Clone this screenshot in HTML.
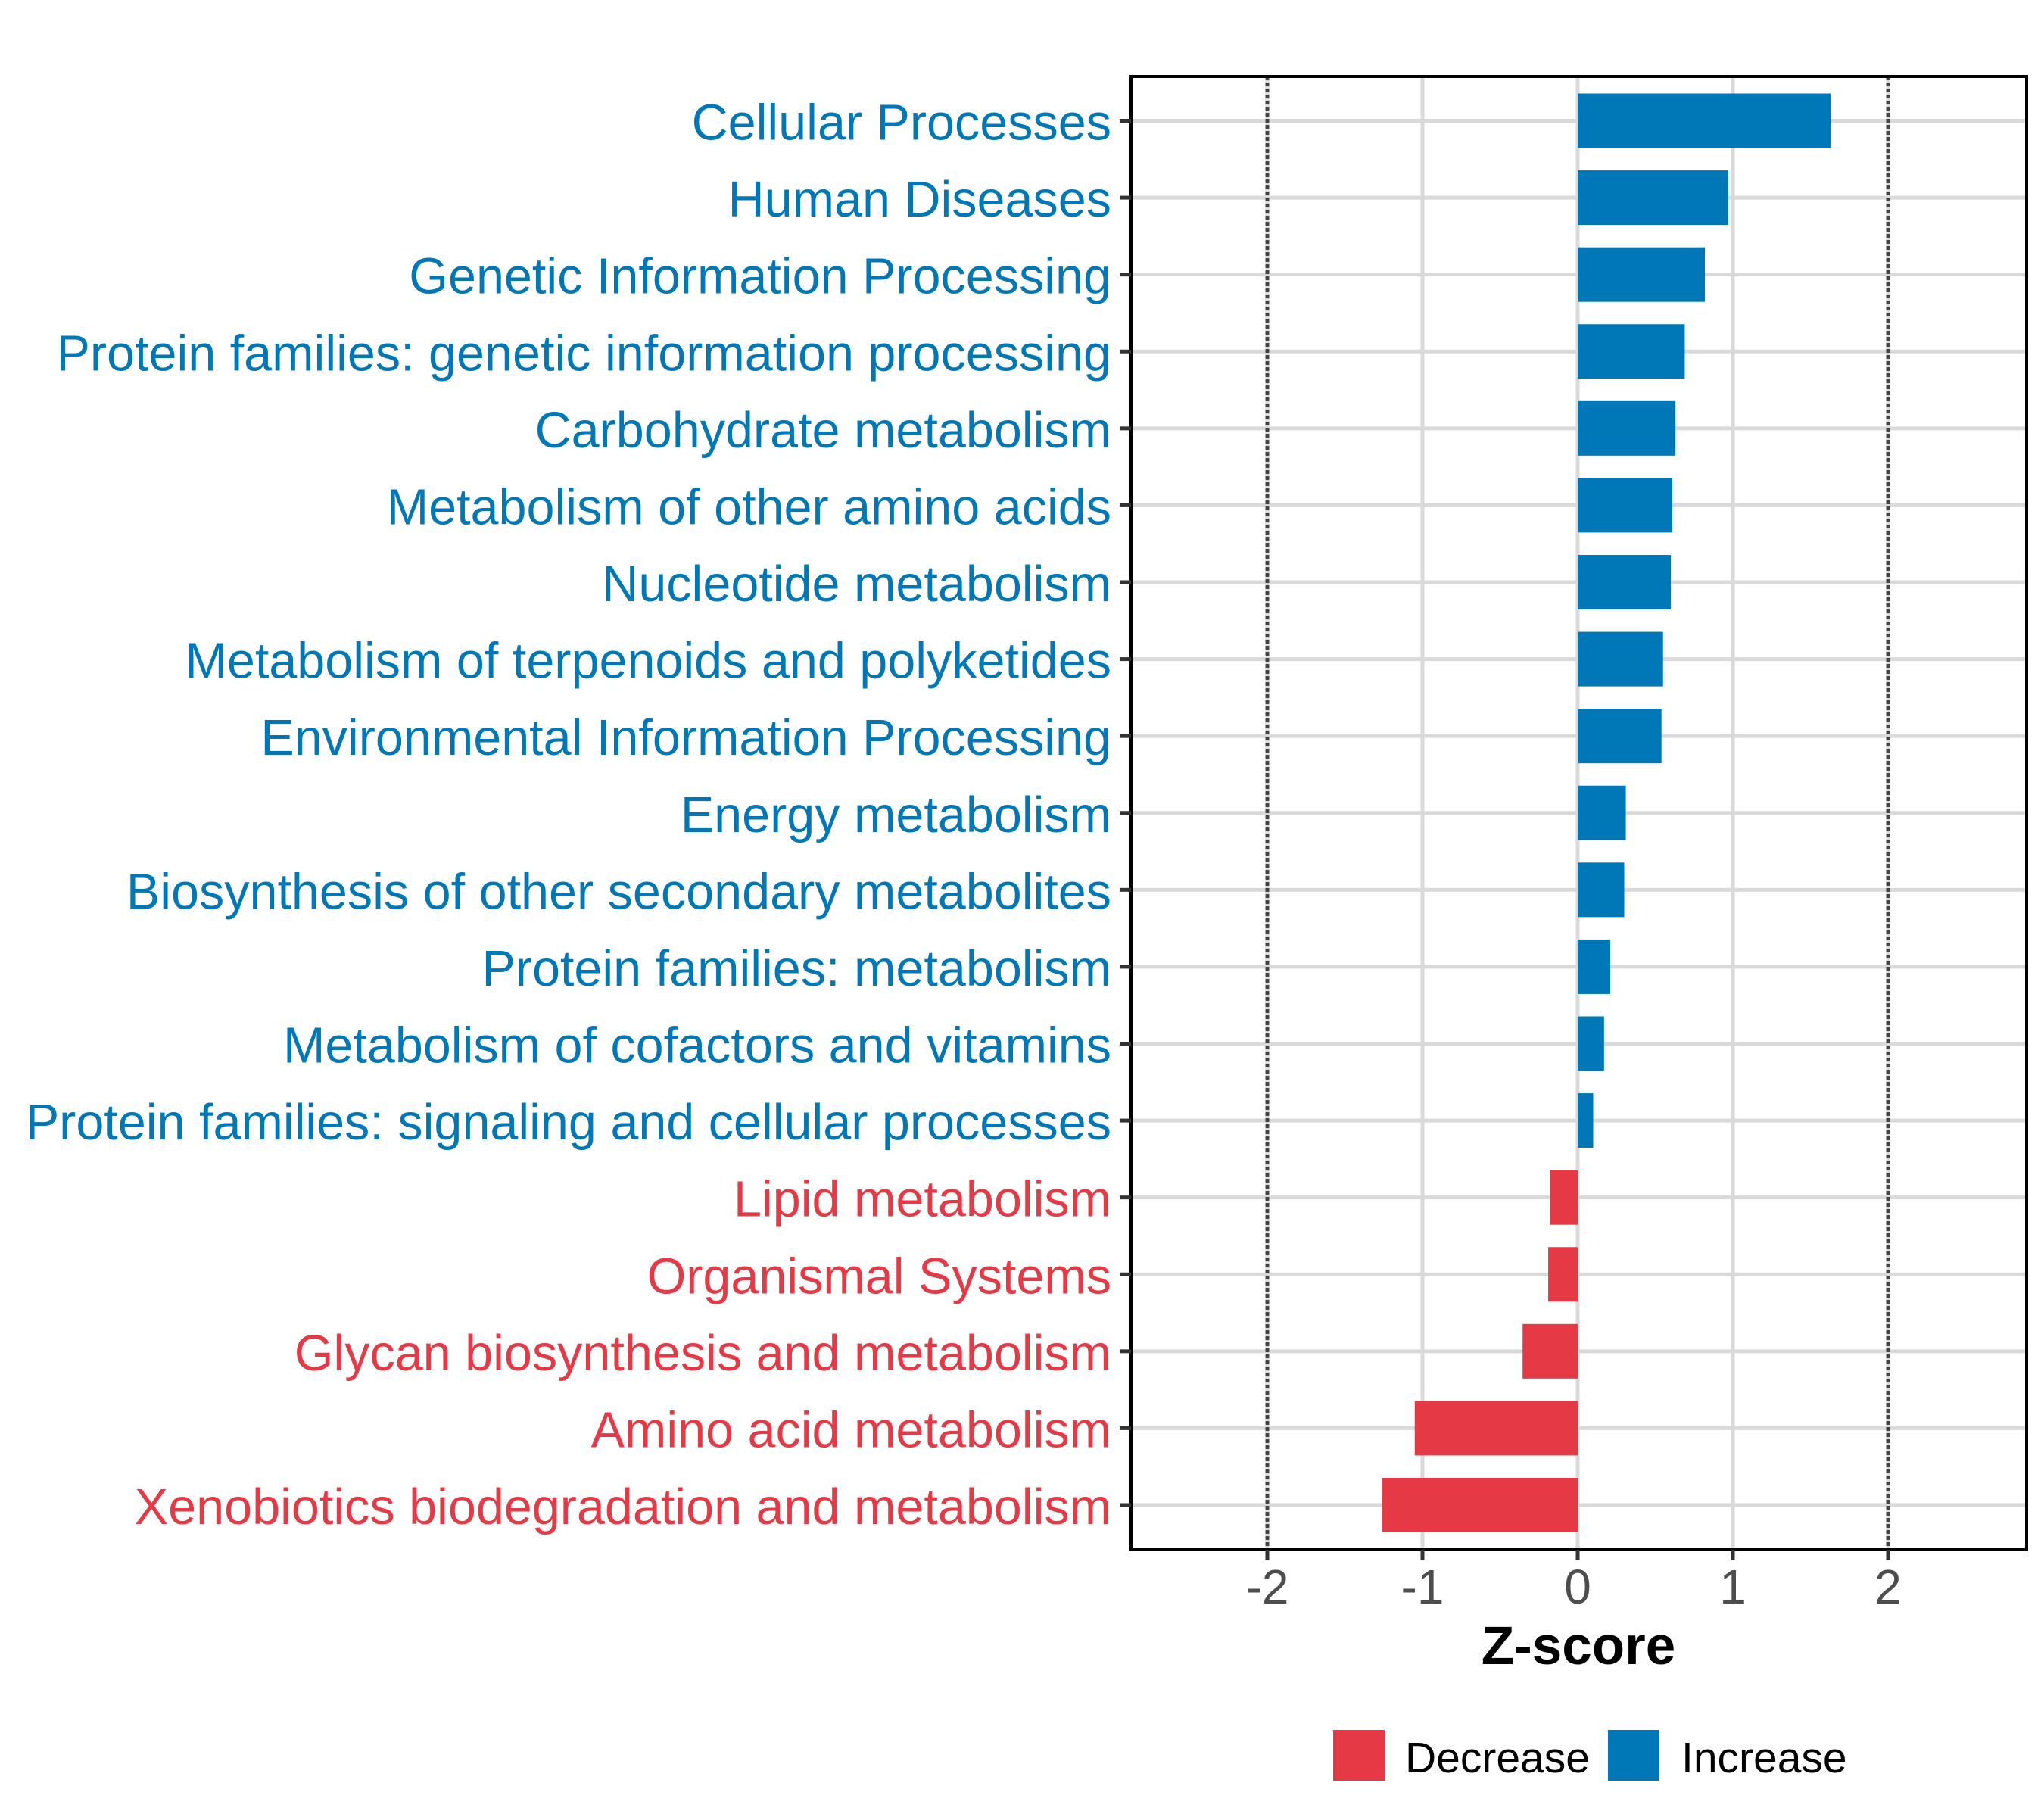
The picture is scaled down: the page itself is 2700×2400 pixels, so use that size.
<!DOCTYPE html>
<html><head><meta charset="utf-8"><style>html,body{margin:0;padding:0;background:#fff}svg{display:block}</style></head>
<body>
<svg id="chart" width="2700" height="2400" viewBox="0 0 2700 2400" xmlns="http://www.w3.org/2000/svg" font-family="'Liberation Sans', Arial, sans-serif">
<rect x="0" y="0" width="2700" height="2400" fill="#fff"/>
<g id="grid"></g>
<g id="bars"></g>
<g id="refs"></g>
<rect x="1494" y="101" width="1183" height="1946" fill="none" stroke="#000" stroke-width="4"/>
<g id="yaxis"></g>
<g id="xaxis"></g>
<text x="2085" y="2198" font-size="71" font-weight="bold" text-anchor="middle" fill="#000">Z-score</text>
<g>
  <g>
    <rect x="1761" y="2285" width="68" height="67" fill="#E63946"/>
    <text x="1856" y="2341" font-size="57" fill="#000">Decrease</text>
  </g>
  <g>
    <rect x="2124" y="2285" width="68" height="67" fill="#0077B6"/>
    <text x="2221" y="2341" font-size="57" fill="#000">Increase</text>
  </g>
</g>
</svg>
<script>
const categories = ["Cellular Processes","Human Diseases","Genetic Information Processing","Protein families: genetic information processing","Carbohydrate metabolism","Metabolism of other amino acids","Nucleotide metabolism","Metabolism of terpenoids and polyketides","Environmental Information Processing","Energy metabolism","Biosynthesis of other secondary metabolites","Protein families: metabolism","Metabolism of cofactors and vitamins","Protein families: signaling and cellular processes","Lipid metabolism","Organismal Systems","Glycan biosynthesis and metabolism","Amino acid metabolism","Xenobiotics biodegradation and metabolism"];
const zscores = [1.63,0.97,0.82,0.69,0.63,0.61,0.60,0.55,0.54,0.31,0.30,0.21,0.17,0.10,-0.18,-0.19,-0.355,-1.05,-1.26];
const xTicks = [-2,-1,0,1,2];
const xTickLabels = ["-2","-1","0","1","2"];
const refLines = [-2,2];

const NS = "http://www.w3.org/2000/svg";
const X0 = 2084, UNIT = 205;
function xScale(v){ return X0 + v*UNIT; }
const ROW0 = 159.5, STEP = (1988-159.5)/18;
function yScale(i){ return ROW0 + i*STEP; }
const BLUE = "#0077B6", RED = "#E63946";
function mk(tag, attrs, parent){ const e=document.createElementNS(NS,tag); for(const k in attrs) e.setAttribute(k,attrs[k]); parent.appendChild(e); return e; }

const grid = document.getElementById('grid');
xTicks.forEach((t,i)=>{
  const l = mk('line',{x1:xScale(t),x2:xScale(t),y1:101,y2:2047,stroke:'#d9d9d9','stroke-width':5},grid);
  
  
});
categories.forEach((c,i)=>{
  const l = mk('line',{x1:1494,x2:2677,y1:yScale(i),y2:yScale(i),stroke:'#d9d9d9','stroke-width':5},grid);
  
  
});

const bars = document.getElementById('bars');
zscores.forEach((v,i)=>{
  const x1 = Math.min(xScale(0), xScale(v)), w = Math.abs(xScale(v)-xScale(0));
  const r = mk('rect',{x:x1,y:yScale(i)-36,width:w,height:72,fill: v>=0?BLUE:RED},bars);
  
  
});

const refs = document.getElementById('refs');
refLines.forEach(v=>{
  const l = mk('line',{x1:xScale(v),x2:xScale(v),y1:101,y2:2047,stroke:'#444','stroke-width':5,'stroke-dasharray':'5 3'},refs);
  
  
});

const yaxis = document.getElementById('yaxis');
categories.forEach((c,i)=>{
  const y = yScale(i);
  const tk = mk('line',{x1:1479,x2:1494,y1:y,y2:y,stroke:'#333','stroke-width':5},yaxis);
  
  
  const t = mk('text',{x:1468,y:y+25,'font-size':66.5,'text-anchor':'end',fill: zscores[i]>=0?BLUE:RED},yaxis);
  t.textContent = c;
  
  
});

const xaxis = document.getElementById('xaxis');
xTicks.forEach((v,i)=>{
  const tk = mk('line',{x1:xScale(v),x2:xScale(v),y1:2047,y2:2061,stroke:'#333','stroke-width':5},xaxis);
  
  
  const t = mk('text',{x:xScale(v),y:2118,'font-size':64,'text-anchor':'middle',fill:'#4d4d4d'},xaxis);
  t.textContent = xTickLabels[i];
  
  
});
</script>
</body></html>
